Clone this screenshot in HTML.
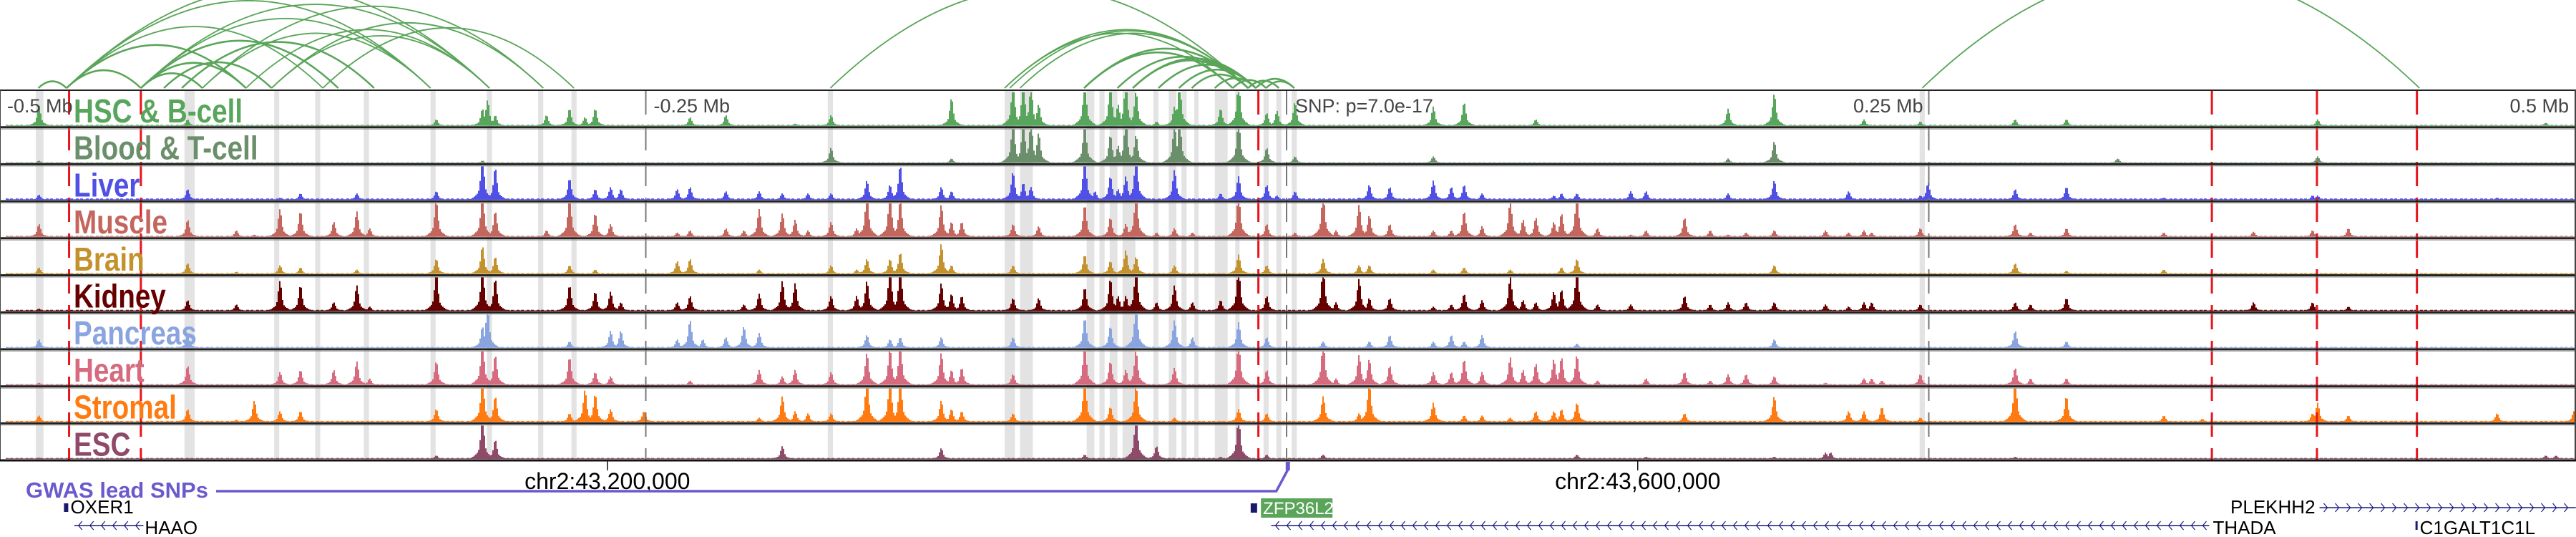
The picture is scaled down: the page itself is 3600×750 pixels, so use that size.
<!DOCTYPE html>
<html><head><meta charset="utf-8"><style>
html,body{margin:0;padding:0;background:#fff;}
svg{display:block;font-family:"Liberation Sans","DejaVu Sans",sans-serif;}
</style></head><body>
<svg id="chart" width="3600" height="750" viewBox="0 0 3600 750" xmlns="http://www.w3.org/2000/svg">
<g id="shades"></g>
<g id="arcs"></g>
<g id="tracks"></g>
<g id="vlines"></g>
<g id="frame"></g>
<g id="labels"></g>
<g id="axis"></g>
<g id="genes"></g>
</svg>
<script>
// ---- data (positions in kb relative to lead SNP) ----
const trackNames = ["HSC & B-cell","Blood & T-cell","Liver","Muscle","Brain","Kidney","Pancreas","Heart","Stromal","ESC"];
const trackColors = ["#58a55c","#6a8f6a","#5050e6","#c4665e","#c4922c","#660000","#8aa4e0","#d66a7e","#ff7a10","#8e4a68"];
const baseLevels = [0.03,0.02,0.04,0.03,0.03,0.03,0.03,0.03,0.03,0.03];
const hscPeaks = [[-487,.47],[-429,.15],[-332,.15],[-314,.4],[-312,.6],[-309,.25],[-289,.25],[-280,.4],[-274,.2],[-270,.4],[-233,.2],[-219,.25],[-192,.05],[-178,.25],[-131,.65],[-107,1],[-103,1],[-100,.9],[-97,.5],[-79,1],[-69,.95],[-66,.5],[-63,1],[-59,.8],[-51,.1],[-44,.45],[-42,1],[-26,.4],[-19,1],[-8,.3],[-4,.35],[3,.55],[57,.45],[69,.55],[97,.15],[172,.4],[190,.75],[225,.15],[247,.1],[284,.15],[304,.15],[402,.15],[491,.07]];
const bloodPeaks = [[-487,.05],[-314,.05],[-178,.35],[-131,.1],[-107,1],[-103,1],[-100,.95],[-97,.7],[-79,.95],[-69,.65],[-66,.4],[-63,1],[-59,.65],[-44,.9],[-42,1],[-19,1],[-8,.35],[3,.15],[57,.15],[172,.1],[190,.5],[324,.1],[402,.15]];
const liverPeaks = [[-487,.12],[-429,.25],[-393,.05],[-385,.15],[-363,.15],[-332,.2],[-314,1],[-309,.75],[-280,.5],[-270,.25],[-264,.3],[-260,.25],[-238,.25],[-233,.3],[-219,.2],[-206,.2],[-197,.15],[-187,.15],[-178,.15],[-164,.45],[-155,.35],[-151,.8],[-135,.3],[-131,.2],[-107,.65],[-103,.4],[-100,.3],[-79,1],[-75,.2],[-69,.55],[-66,.25],[-63,.55],[-59,1],[-44,.7],[-26,.15],[-19,.55],[-8,.35],[-4,.1],[3,.2],[28,.05],[32,.35],[40,.3],[57,.45],[64,.3],[69,.35],[76,.15],[104,.1],[107,.15],[113,.15],[134,.2],[140,.2],[172,.15],[190,.45],[219,.2],[247,.1],[250,.4],[284,.25],[304,.3],[342,.05],[400,.1],[402,.1],[472,.05]];
const musclePeaks = [[-487,.3],[-429,.4],[-410,.15],[-403,.05],[-393,.65],[-385,.6],[-372,.35],[-363,.6],[-358,.2],[-332,.85],[-314,1],[-309,.6],[-289,.15],[-280,.95],[-270,.55],[-264,.3],[-238,.1],[-233,.15],[-219,.2],[-212,.15],[-206,.65],[-197,.55],[-192,.4],[-187,.15],[-178,.35],[-168,.2],[-164,1],[-155,1],[-151,.85],[-135,.75],[-131,.35],[-127,.35],[-107,.3],[-97,.25],[-79,.75],[-69,.45],[-63,.3],[-59,1],[-51,.1],[-44,.2],[-37,.1],[-19,1],[-8,.3],[3,.1],[14,1],[19,.15],[28,.75],[32,.5],[40,.3],[57,.15],[64,.15],[69,.6],[76,.25],[87,.85],[92,.4],[97,.45],[104,.35],[107,.55],[113,1],[121,.2],[134,.05],[140,.15],[155,.45],[165,.15],[172,.05],[179,.1],[190,.15],[210,.15],[219,.1],[225,.15],[228,.1],[247,.2],[284,.3],[290,.1],[304,.2],[342,.1],[377,.12],[400,.15],[414,.2]];
const brainPeaks = [[-487,.15],[-429,.25],[-410,.05],[-393,.2],[-385,.15],[-363,.1],[-332,.35],[-314,.65],[-309,.4],[-280,.2],[-270,.1],[-238,.3],[-233,.35],[-206,.1],[-178,.2],[-168,.1],[-164,.35],[-155,.35],[-151,.5],[-135,.7],[-131,.2],[-107,.2],[-79,.45],[-69,.3],[-63,.55],[-59,.4],[-44,.2],[-19,.45],[-8,.2],[14,.35],[28,.2],[32,.2],[57,.1],[69,.15],[87,.1],[107,.15],[113,.35],[190,.2],[284,.25],[304,.07],[342,.1]];
const kidneyPeaks = [[-487,.05],[-429,.25],[-410,.15],[-393,.7],[-385,.6],[-372,.2],[-363,.6],[-358,.1],[-332,.9],[-314,1],[-309,.75],[-280,.6],[-270,.45],[-264,.45],[-260,.2],[-238,.2],[-233,.35],[-212,.15],[-206,.4],[-197,.7],[-192,.65],[-178,.35],[-168,.35],[-164,.7],[-155,1],[-151,1],[-135,.65],[-131,.4],[-127,.35],[-107,.3],[-97,.3],[-79,.55],[-69,.75],[-66,.35],[-63,.35],[-59,1],[-51,.2],[-44,.6],[-37,.2],[-26,.25],[-19,1],[-8,.35],[14,1],[19,.2],[28,.75],[32,.3],[40,.3],[57,.1],[64,.15],[69,.4],[76,.25],[87,.8],[92,.25],[97,.2],[104,.45],[107,.5],[113,1],[121,.15],[134,.15],[155,.35],[165,.15],[172,.2],[179,.2],[190,.2],[210,.15],[219,.1],[225,.2],[228,.2],[247,.15],[284,.2],[290,.15],[304,.3],[377,.2],[400,.2],[414,.1]];
const pancreasPeaks = [[-487,.2],[-429,.3],[-314,.5],[-312,.95],[-280,.15],[-264,.4],[-260,.4],[-238,.2],[-233,.65],[-228,.2],[-219,.25],[-212,.5],[-206,.35],[-164,.3],[-155,.2],[-151,.25],[-135,.25],[-107,.25],[-79,.7],[-69,.5],[-59,1],[-44,.65],[-37,.25],[-19,.6],[-8,.25],[14,.15],[32,.15],[40,.3],[57,.15],[64,.3],[69,.15],[76,.3],[113,.1],[190,.2],[284,.4],[304,.15]];
const heartPeaks = [[-487,.05],[-429,.45],[-393,.3],[-385,.35],[-372,.35],[-363,.55],[-358,.15],[-332,.55],[-314,1],[-309,.7],[-280,.65],[-270,.3],[-264,.2],[-233,.1],[-206,.35],[-197,.2],[-192,.35],[-178,.3],[-164,.75],[-155,.85],[-151,.95],[-135,.75],[-131,.35],[-127,.4],[-107,.25],[-79,.95],[-69,.55],[-63,.35],[-59,.8],[-44,.4],[-19,1],[-8,.35],[14,1],[19,.15],[28,.7],[32,.6],[40,.45],[57,.3],[64,.3],[69,.6],[76,.3],[87,.65],[92,.35],[97,.5],[104,.6],[107,.65],[113,.7],[121,.1],[140,.15],[155,.3],[165,.1],[172,.25],[179,.25],[190,.2],[210,.05],[225,.15],[228,.15],[232,.1],[247,.25],[284,.4],[290,.15],[304,.15]];
const stromalPeaks = [[-487,.15],[-429,.3],[-410,.05],[-403,.5],[-393,.25],[-385,.25],[-332,.3],[-314,1],[-309,.6],[-280,.2],[-274,.75],[-270,.65],[-264,.3],[-251,.25],[-206,.1],[-197,.6],[-192,.25],[-187,.2],[-178,.2],[-164,1],[-155,1],[-151,1],[-135,.5],[-131,.3],[-127,.25],[-107,.2],[-79,1],[-69,.35],[-59,.85],[-44,.1],[-19,.3],[-8,.2],[14,.6],[28,.2],[32,.9],[57,.45],[69,.15],[76,.15],[87,.1],[97,.25],[104,.25],[107,.3],[113,.45],[155,.2],[190,.6],[219,.25],[225,.25],[232,.35],[247,.1],[284,1],[304,.6],[342,.15],[357,.07],[400,.2],[402,.45],[414,.15],[472,.2],[502,.25]];
const escPeaks = [[-487,.03],[-332,.08],[-314,1],[-309,.45],[-197,.3],[-135,.25],[-79,.1],[-59,1],[-51,.3],[-26,.05],[-19,1],[-8,.1],[14,.1],[113,.1],[140,.05],[190,.05],[210,.15],[212,.15],[284,.05],[491,.08],[495,.08]];
const shadeRegions = [[-488,-485],[-430,-426],[-395,-393],[-379,-377],[-360,-358],[-334,-332],[-312,-310],[-292,-290],[-279,-277],[-179,-177],[-110,-106],[-104,-99],[-78,-75],[-73,-71],[-69,-66],[-64,-59],[-52,-50],[-46,-43],[-41,-39],[-36,-35],[-28,-23],[-20,-19],[-9,-7],[-4,-2],[2,4],[247,249]];
const redMarkers = [-475,-447,-11,361,402,441];
const greyMarkers = [-250,0,250];
const loopArcs = [[-487,-476],[-476,-447],[-447,-423],[-447,-406],[-476,-406],[-438,-396],[-476,-376],[-447,-370],[-431,-356],[-423,-334],[-447,-311],[-476,-311],[-406,-311],[-396,-290],[-376,-278],[-423,-290],[-476,-334],[-396,-311],[-447,-334],
 [-178,-15],[-110,-15],[-108,-15],[-104,-15],[-110,-21],[-79,-15],[-79,-21],[-66,-15],[-60,-15],[-60,-12],[-50,-12],[-42,-12],[-37,-15],[-28,-12],[-21,-8],[-15,-3],[-12,3],[-8,3],[248,442]];
const topTickLabels = ["-0.5 Mb","-0.25 Mb","0.25 Mb","0.5 Mb"];
const bottomTickKb = [-265,137];
const bottomTickLabels = ["chr2:43,200,000","chr2:43,600,000"];
const snpLabel = "SNP: p=7.0e-17";

// ---- scales ----
const NS="http://www.w3.org/2000/svg";
const xs = kb => 1798 + kb*3.582;
const TOP=126, TH=51.7;
const allPeaks=[hscPeaks,bloodPeaks,liverPeaks,musclePeaks,brainPeaks,kidneyPeaks,pancreasPeaks,heartPeaks,stromalPeaks,escPeaks];
function el(tag,attrs,parent){const e=document.createElementNS(NS,tag);for(const k in attrs)e.setAttribute(k,attrs[k]);parent.appendChild(e);return e;}
const gSh=document.getElementById('shades'),gArc=document.getElementById('arcs'),gTr=document.getElementById('tracks'),
gV=document.getElementById('vlines'),gF=document.getElementById('frame'),gL=document.getElementById('labels'),
gA=document.getElementById('axis'),gG=document.getElementById('genes');

shadeRegions.forEach(r=>{
  const e=el('rect',{x:xs(r[0]),y:TOP,width:Math.max(6,xs(r[1])-xs(r[0])),height:TH*10,fill:'#e3e3e3'},gSh);
  
  
});

loopArcs.forEach(a=>{
  const x1=xs(a[0]),x2=xs(a[1]),span=x2-x1,h=0.24*span,base=123;
  const e=el('path',{d:`M${x1},${base} Q${(x1+x2)/2},${base-2*h} ${x2},${base}`,fill:'none',stroke:'#5aa55a','stroke-width':span<300?2.5:1.8},gArc);
  
  
});

allPeaks.forEach((peaks,i)=>{
  const top=TOP+i*TH, bot=top+TH-2, maxH=TH-5;
  let d=`M8,${bot}`;
  for(let px=8;px<=3597;px+=2){
    let v=baseLevels[i]*(px%7<4?1:0.5);
    for(const p of peaks){
      const dx=px-xs(p[0]);
      if(Math.abs(dx)>40)continue;
      const s=p[1]*Math.exp(-(dx/3)*(dx/3))+0.28*p[1]*Math.exp(-(dx/11)*(dx/11));
      if(s>v)v=s;
    }
    v=Math.min(1,v);
    const y=bot-v*maxH;
    d+=` L${px},${y.toFixed(1)} L${px+2},${y.toFixed(1)}`;
  }
  d+=` L3599,${bot} Z`;
  const e=el('path',{d:d,fill:trackColors[i]},gTr);
  
  
});

redMarkers.forEach(k=>{
  const e=el('line',{x1:xs(k),x2:xs(k),y1:TOP,y2:TOP+TH*10,stroke:'#e8141c','stroke-width':3,'stroke-dasharray':'34 16'},gV);
  
  
});
greyMarkers.forEach(k=>{
  const e=el('line',{x1:xs(k)+(k>0?2:0),x2:xs(k)+(k>0?2:0),y1:TOP,y2:TOP+TH*10,stroke:'#777','stroke-width':2,'stroke-dasharray':'34 16'},gV);
  
  
});

for(let i=0;i<=10;i++){
  const y=TOP+i*TH;
  const e=el('line',{x1:0,x2:3600,y1:y,y2:y,stroke:'#222','stroke-width':i==0?2:3},gF);
  
  
  if(i>0&&i<10){const e2=el('line',{x1:0,x2:3600,y1:y+2.5,y2:y+2.5,stroke:'#999','stroke-width':1},gF);
  
  }
}
['0','3599'].forEach(xv=>{const e=el('line',{x1:xv,x2:xv,y1:TOP,y2:TOP+TH*10,stroke:'#444','stroke-width':2},gF);

});

trackNames.forEach((n,i)=>{
  const t=el('text',{x:0,y:0,fill:trackColors[i],'font-size':46,'font-weight':'bold',transform:`translate(103,${(TOP+i*TH+45).toFixed(1)}) scale(0.84,1)`},gL);
  t.textContent=n;
  
  
});

const topTickKb=[-500,-250,250,500];
topTickLabels.forEach((s,i)=>{
  const k=topTickKb[i];
  let xp=xs(k), anchor='start';
  if(k==-500)xp=10; else if(k==-250)xp=xs(k)+11; else {anchor='end'; xp=k==500?3590:xs(k)-6;}
  const t=el('text',{x:xp,y:157,fill:'#444','font-size':27,'text-anchor':anchor},gA);
  t.textContent=s;
  
  
});
const snp=el('text',{x:1810,y:157,fill:'#444','font-size':27},gA);snp.textContent=snpLabel;



const ax=el('line',{x1:0,x2:3600,y1:643,y2:643,stroke:'#111','stroke-width':3},gA);


bottomTickKb.forEach((k,i)=>{
  const tk=el('line',{x1:xs(k),x2:xs(k),y1:643,y2:657,stroke:'#111','stroke-width':1.5},gA);
  
  
  const t=el('text',{x:xs(k),y:683,fill:'#000','font-size':32,'text-anchor':'middle'},gA);
  t.textContent=bottomTickLabels[i];
  
  
});

// GWAS track
const gw=el('text',{x:36,y:695,fill:'#6a5acd','font-size':31,'font-weight':'bold'},gG);gw.textContent="GWAS lead SNPs";


const gl=el('path',{d:`M302,686 L${xs(-4)},686 L${xs(0.5)},656`,fill:'none',stroke:'#6a5acd','stroke-width':3.5},gG);


const gs=el('rect',{x:xs(0.5)-3,y:645,width:6,height:12,fill:'#6a5acd'},gG);



function geneLine(k1,k2,y,dir,name){
  const x1=xs(k1),x2=xs(k2);
  const g=el('g',{},gG);
  
  
  el('line',{x1:x1,x2:x2,y1:y,y2:y,stroke:'#1a1a7a','stroke-width':1.5},g);
  let d='';
  for(let px=x1+6;px<x2-4;px+=16){ d+= dir<0?`M${px+5},${y-6} L${px},${y} L${px+5},${y+6} `:`M${px},${y-6} L${px+5},${y} L${px},${y+6} `; }
  el('path',{d:d,fill:'none',stroke:'#1a1a7a','stroke-width':1.2},g);
  return g;
}
function label(txt,xp,y,anchor,name){const t=el('text',{x:xp,y:y,'font-size':26,fill:'#000','text-anchor':anchor||'start'},gG);t.textContent=txt;

}

const ox=el('rect',{x:xs(-477),y:703,width:6,height:12,fill:'#1a1a6a'},gG);


label('OXER1',xs(-475)+2,717,'start','oxer1-label');
geneLine(-473,-446,734,-1,'haao-gene');
label('HAAO',xs(-446)+2,746,'start','haao-label');

const zd=el('rect',{x:xs(-14),y:703,width:9,height:13,fill:'#1a1a6a'},gG);


const zb=el('rect',{x:xs(-10),y:696,width:100,height:27,fill:'#5aa55a'},gG);


const zt=el('text',{x:xs(-10)+3,y:718,'font-size':24,fill:'#fff'},gG);zt.textContent='ZFP36L2';



geneLine(-6,360,734,-1,'thada-gene');
label('THADA',xs(360)+5,746,'start','thada-label');
geneLine(403,503,709,1,'plekhh2-gene');
label('PLEKHH2',xs(403)-6,717,'end','plekhh2-label');
const cg=el('rect',{x:xs(441)-2,y:728,width:3,height:12,fill:'#1a1a7a'},gG);


label('C1GALT1C1L',xs(441)+4,746,'start','c1galt1c1l-label');
</script>
</body></html>
